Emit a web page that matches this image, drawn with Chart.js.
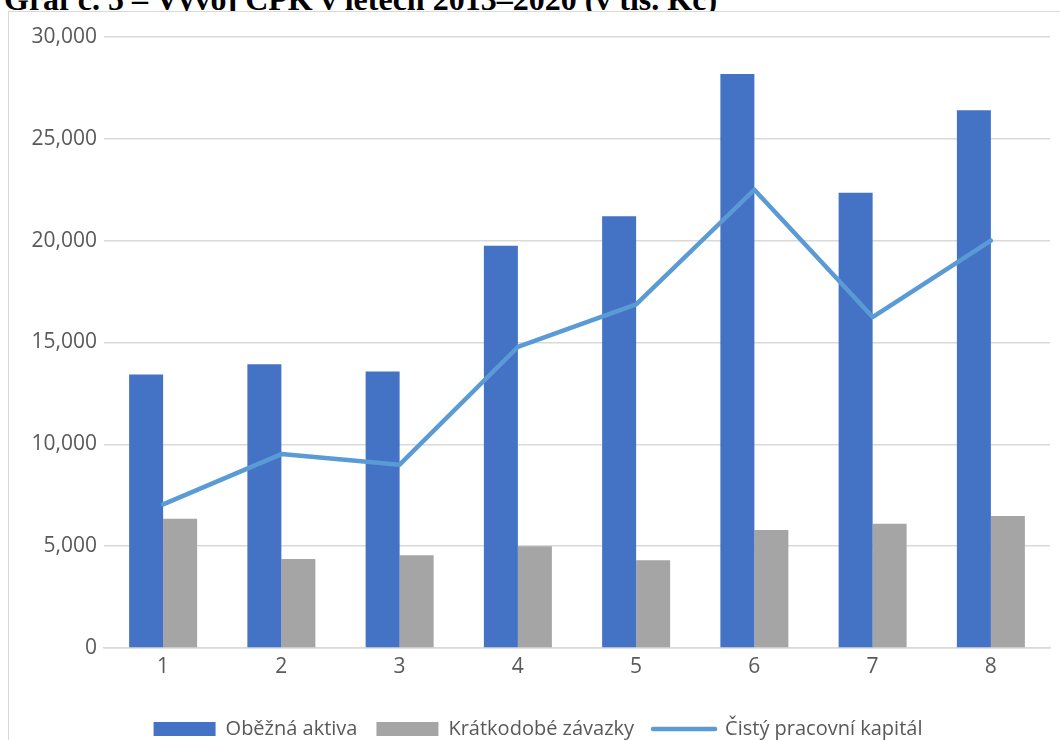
<!DOCTYPE html>
<html lang="cs">
<head>
<meta charset="utf-8">
<script src="https://cdn.jsdelivr.net/npm/chart.js@4.4.1/dist/chart.umd.min.js"></script>
<style>
  html, body { margin: 0; padding: 0; background: #fff; overflow: hidden; }
  body { width: 1060px; height: 740px; position: relative; }
  #title {
    position: absolute; left: 4px; top: -16px; margin: 0;
    font: bold 32px/31px "Liberation Serif", "Times New Roman", serif;
    color: #000; white-space: nowrap;
  }
  #frame {
    position: absolute; left: 8px; top: 11px; width: 1080px; height: 780px;
    border: 1.5px solid #d9d9d9; background: #fff; box-sizing: border-box;
  }
  #wrap { position: absolute; left: 10px; top: 13px; width: 1050px; height: 750px; }
</style>
</head>
<body>
<div id="title">Graf č. 5 – Vývoj ČPK v letech 2013–2020 (v tis. Kč)</div>
<div id="frame"></div>
<div id="wrap"><canvas id="chart"></canvas></div>
<script>
// hodnoty (tis. Kč)
const categories = ['1', '2', '3', '4', '5', '6', '7', '8'];
const obeznaAktiva = [13430, 13930, 13580, 19750, 21200, 28180, 22350, 26400];
const kratkodobeZavazky = [6345, 4365, 4550, 5000, 4310, 5790, 6100, 6480];
const cistyPracovniKapital = [7050, 9520, 9000, 14780, 16870, 22500, 16250, 20000];
const yTicks = [0, 5000, 10000, 15000, 20000, 25000, 30000];

const textColor = '#595959';
const gridColor = '#d9d9d9';

// legenda je v originálu o kousek vpravo od středu
const shiftLegend = {
    id: 'shiftLegend',
    afterLayout(c) {
        c.legend.left += 8;
        c.legend.right += 8;
    }
};

const ctx = document.getElementById('chart').getContext('2d');
const chart = new Chart(ctx, {
    type: 'bar',
    data: {
        labels: categories,
        datasets: [{
            label: 'Oběžná aktiva',
            data: obeznaAktiva,
            backgroundColor: '#4472c4',
            borderWidth: 0,
            order: 1
        }, {
            label: 'Krátkodobé závazky',
            data: kratkodobeZavazky,
            backgroundColor: '#a5a5a5',
            borderWidth: 0,
            order: 1
        }, {
            type: 'line',
            label: 'Čistý pracovní kapitál',
            data: cistyPracovniKapital,
            borderColor: '#5b9bd5',
            backgroundColor: '#5b9bd5',
            borderWidth: 4.5,
            borderCapStyle: 'round',
            borderJoinStyle: 'round',
            pointRadius: 0,
            tension: 0,
            fill: false,
            order: 0
        }]
    },
    plugins: [shiftLegend],
    options: {
        responsive: true,
        maintainAspectRatio: false,
        animation: false,
        datasets: {
            bar: { categoryPercentage: 0.575, barPercentage: 1 }
        },
        layout: { padding: { top: 24, right: 10, left: 0, bottom: 14 } },
        plugins: {
            tooltip: { enabled: false },
            legend: {
                position: 'bottom',
                labels: {
                    color: textColor,
                    font: { family: '"Open Sans"', size: 20 },
                    usePointStyle: true,
                    pointStyleWidth: 62,
                    boxHeight: 14,
                    padding: 19,
                    sort: function(a, b) { return a.datasetIndex - b.datasetIndex; },
                    generateLabels: function(c) {
                        const items = Chart.defaults.plugins.legend.labels.generateLabels(c);
                        items.forEach(function(it) {
                            it.pointStyle = it.datasetIndex === 2 ? 'line' : 'rect';
                            if (it.datasetIndex === 2) it.lineCap = 'round';
                        });
                        return items;
                    }
                }
            }
        },
        scales: {
            x: {
                grid: { display: false, drawTicks: false },
                border: { color: gridColor, width: 1.5 },
                ticks: {
                    color: textColor,
                    font: { family: '"Open Sans"', size: 21 },
                    padding: 6,
                    maxRotation: 0
                },
                afterFit: function(scale) { scale.height = 52; }
            },
            y: {
                min: 0,
                max: 30000,
                afterBuildTicks: function(scale) {
                    scale.ticks = yTicks.map(function(v) { return { value: v }; });
                },
                grid: { color: gridColor, lineWidth: 1.5, drawTicks: false },
                border: { display: false },
                ticks: {
                    color: textColor,
                    font: { family: '"Open Sans"', size: 21 },
                    padding: 7,
                    callback: function(v) { return v.toLocaleString('en-US'); }
                },
                afterFit: function(scale) { scale.width = 94; }
            }
        }
    }
});
</script>
</body>
</html>
